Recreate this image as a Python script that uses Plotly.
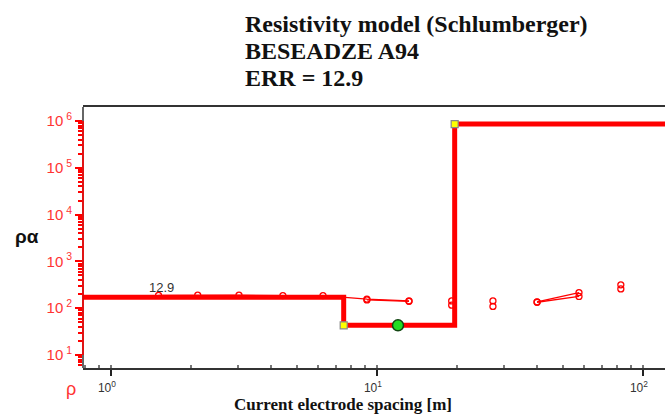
import plotly.graph_objects as go
import math

# ---- data ----
# model layers
layer_bottoms = [7.5, 19.6]            # m
layer_rho = [172, 43, 8.6e5]           # ohm m
# measured apparent resistivity (two readings per spacing), None = break
spacing = [1.51, 2.12, 3.03, 4.43, 6.27, 9.17, 13.2, None, 19.1, None, 27.3, None, 40.0, 57.5, None, 82.6]
rho_upper = [188, 190, 190, 186, 186, 156, 143, None, 143, None, 143, None, 136, 216, None, 315]
rho_lower = [None, None, None, None, None, 150, 140, None, 116, None, 109, None, 134, 178, None, 258]
# selected point
sel_x = [12.0]
sel_rho = [43]

x_tickvals = [1, 10, 100]
x_ticktext = ["10<sup>0</sup>", "10<sup>1</sup>", "10<sup>2</sup>"]
y_tickvals = [10, 100, 1000, 1e4, 1e5, 1e6]
y_ticktext = ["10<sup> 1</sup>", "10<sup> 2</sup>", "10<sup> 3</sup>", "10<sup> 4</sup>", "10<sup> 5</sup>", "10<sup> 6</sup>"]

err_text = "12.9"
title_lines = ["Resistivity model (Schlumberger)", "BESEADZE A94", "ERR = 12.9"]

# ---- build step line from layers ----
x_lo, x_hi = 0.5, 300.0
step_x = [x_lo] + layer_bottoms + [x_hi]
step_y = layer_rho + [layer_rho[-1]]

Y_RANGE = [0.722, 6.299]
RED = "#ff0000"
fig = go.Figure()

fig.add_trace(go.Scatter(x=spacing, y=rho_upper, mode="lines+markers",
                         line=dict(color=RED, width=1.3),
                         marker=dict(symbol="circle-open", size=6, color=RED, line=dict(width=1.3)),
                         connectgaps=False, showlegend=False))
fig.add_trace(go.Scatter(x=spacing, y=rho_lower, mode="lines+markers",
                         line=dict(color=RED, width=1.3),
                         marker=dict(symbol="circle-open", size=6, color=RED, line=dict(width=1.3)),
                         connectgaps=False, showlegend=False))
fig.add_trace(go.Scatter(x=step_x, y=step_y, mode="lines", line_shape="hv",
                         line=dict(color=RED, width=5), showlegend=False))
fig.add_trace(go.Scatter(x=layer_bottoms, y=layer_rho[1:], mode="markers",
                         marker=dict(symbol="square", size=7, color="#ffff00",
                                     line=dict(color="#888888", width=1.2)),
                         showlegend=False))
fig.add_trace(go.Scatter(x=sel_x, y=sel_rho, mode="markers",
                         marker=dict(symbol="circle", size=11, color="#22dd22",
                                     line=dict(color="#114411", width=1.5)),
                         showlegend=False))

fig.update_xaxes(type="log", range=[-0.105, 2.083],
                 tickmode="array", tickvals=x_tickvals, ticktext=x_ticktext,
                 ticks="outside", ticklen=6, tickwidth=1.5, tickcolor="#222",
                 ticklabelshift=-4, ticklabelstandoff=2,
                 tickfont=dict(family="Liberation Sans", size=12, color="#333"),
                 showline=True, linecolor="#333", linewidth=1.5, mirror=True,
                 showgrid=False, zeroline=False,
                 minor=dict(ticks="inside", ticklen=3, tickcolor="#777", dtick="D1", showgrid=False))
fig.update_yaxes(type="log", range=Y_RANGE,
                 tickmode="array", tickvals=y_tickvals, ticktext=y_ticktext,
                 ticks="outside", ticklen=7, tickwidth=1.5, tickcolor=RED,
                 tickfont=dict(family="Liberation Sans", size=15, color="#ff3333"),
                 showline=False, showgrid=False, zeroline=False,
                 minor=dict(ticks="outside", ticklen=4, tickcolor=RED, dtick="D1", showgrid=False))


def ypaper(v):
    return (math.log10(v) - Y_RANGE[0]) / (Y_RANGE[1] - Y_RANGE[0])


fig.add_shape(type="line", xref="paper", yref="paper", x0=0, x1=0, y0=0, y1=1,
              line=dict(color="#333", width=1.5))
fig.add_shape(type="line", xref="paper", yref="paper", x0=0, x1=0,
              y0=ypaper(y_tickvals[0]), y1=ypaper(y_tickvals[-1]),
              line=dict(color=RED, width=1.6))

fig.add_annotation(x=math.log10(1.555), y=math.log10(281), xref="x", yref="y",
                   xanchor="center", yanchor="middle",
                   text=err_text, showarrow=False,
                   font=dict(family="Liberation Sans", size=13, color="#333"))
for i, (line, ypx) in enumerate(zip(title_lines, [24, 51, 78])):
    fig.add_annotation(x=(243 - 83) / 582, y=1 + (107 - ypx) / 261, xref="paper", yref="paper",
                       xanchor="left", yanchor="middle", align="left",
                       text="<b>%s</b>" % line, showarrow=False,
                       font=dict(family="Liberation Serif", size=24, color="#111"))
fig.add_annotation(x=(27 - 83) / 582, y=(368 - 236) / 261, xref="paper", yref="paper",
                   xanchor="center", yanchor="middle",
                   text="<b>ρα</b>", showarrow=False,
                   font=dict(family="Liberation Sans", size=19, color="#111"))
fig.add_annotation(x=(71 - 83) / 582, y=-(389 - 368) / 261, xref="paper", yref="paper",
                   xanchor="center", yanchor="middle",
                   text="ρ", showarrow=False,
                   font=dict(family="Liberation Sans", size=18, color="#ff3333"))
fig.add_annotation(x=(343 - 83) / 582, y=-(404 - 368) / 261, xref="paper", yref="paper",
                   xanchor="center", yanchor="middle",
                   text="<b>Current electrode spacing [m]</b>", showarrow=False,
                   font=dict(family="Liberation Serif", size=17, color="#111"))

fig.update_layout(width=665, height=414, margin=dict(l=83, r=0, t=107, b=46),
                  paper_bgcolor="white", plot_bgcolor="white", showlegend=False)

fig.write_html("out.html")
